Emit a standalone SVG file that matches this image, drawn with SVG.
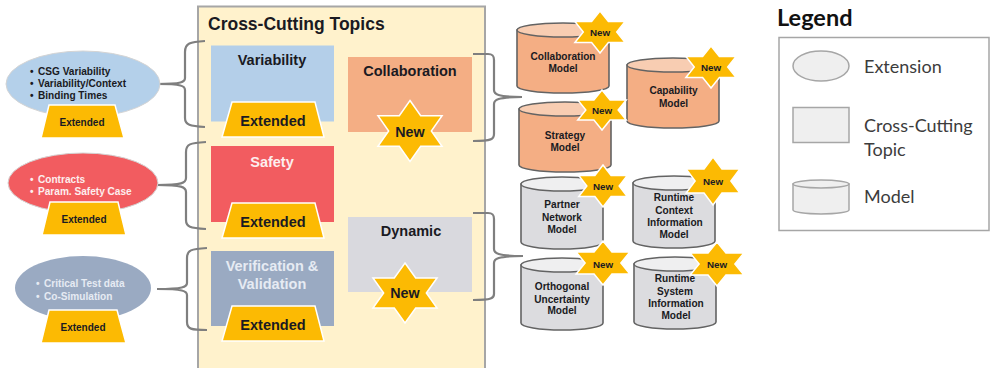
<svg xmlns="http://www.w3.org/2000/svg" width="991" height="368" viewBox="0 0 991 368">
<style>
text{font-family:"Liberation Sans",Arial,sans-serif;font-weight:bold;fill:#1a1a22}
.c{text-anchor:middle}
.t{font-size:14.5px}
.e{font-size:14.5px;text-anchor:middle}
.se{font-size:10px;text-anchor:middle}
.b{font-size:10.100px}
.m{font-size:10.100px;text-anchor:middle}
.n{font-size:9.800px;text-anchor:middle}
.nb{font-size:14.300px;text-anchor:middle}
.w{fill:#fdeeee}
.g{fill:#e6ebf3}
.tr{fill:#fcba03;stroke:#fff;stroke-width:1.500}
.star{fill:#fcba03;stroke:#fff;stroke-width:1.500;vector-effect:non-scaling-stroke}
.br{fill:none;stroke:#7f7f7f;stroke-width:2.200;stroke-linejoin:round}
.oc{fill:#f4ae84;stroke:#636363;stroke-width:1.600}
.ot{fill:#f8cdb2;stroke:#636363;stroke-width:1.400}
.gc{fill:#dcdcdf;stroke:#636363;stroke-width:1.600}
.gt{fill:#efeff0;stroke:#636363;stroke-width:1.400}
.lg{fill:#efefef;stroke:#a6a6a6;stroke-width:1.500}
.lt{font-family:Lato,"Liberation Sans",sans-serif;font-weight:normal;font-size:18px;fill:#3c3c3c}
</style>
<defs>
<polygon id="star" class="star" points="0,-1 .289,-.5 .866,-.5 .577,0 .866,.5 .289,.5 0,1 -.289,.5 -.866,.5 -.577,0 -.866,-.5 -.289,-.5"/>
<g id="ocyl"><path class="oc" d="M0,7V63A46,7 0 0 0 92,63V7Z"/><ellipse class="ot" cx="46" cy="7" rx="46" ry="7"/></g>
<g id="gcyl"><path class="gc" d="M0,7V65A41,7 0 0 0 82,65V7Z"/><ellipse class="gt" cx="41" cy="7" rx="41" ry="7"/></g>
</defs>
<rect width="991" height="368" fill="#fff"/>

<g id="panel"><rect x="198" y="6.500" width="287" height="364" fill="#fff2cc" stroke="#a6a6a6" stroke-width="2"/>
<text x="208" y="30" style="font-size:17.500px">Cross-Cutting Topics</text></g>

<g id="connectors">
<path class="br" d="M205,41C190,42 185,43 185,52V78C185,82 182,84 157,84M157,84C182,84 185,86 185,90V118C185,125 190,126 205,127"/>
<path class="br" d="M206,142C190,143 186,144 186,152V178C186,183 182,185 157,185M157,185C182,185 186,187 186,192V220C186,227 190,228 206,229"/>
<path class="br" d="M207,248C191,249 187,250 187,258V283C187,287 183,289 157,289M157,289C183,289 187,291 187,295V322C187,329 191,330 207,330"/>
<path class="br" d="M473,54H488C493,54 494,56 494,60V90C494,94 497,97 522,97M522,97C497,97 494,100 494,104V134C494,139 492,141 473,141"/>
<path class="br" d="M473,213H488C493,213 494,215 494,219V249C494,253 497,256 523,256M523,256C497,256 494,259 494,263V294C494,298 492,300 473,300"/>
</g>

<g id="ext-variability">
<ellipse cx="83" cy="84" rx="77" ry="33" fill="#b4d0ea" stroke="#d4d4d4"/>
<text class="b"><tspan x="30" y="75">•</tspan><tspan x="38" y="75">CSG Variability</tspan><tspan x="30" y="87">•</tspan><tspan x="38" y="87">Variability/Context</tspan><tspan x="30" y="99">•</tspan><tspan x="38" y="99">Binding Times</tspan></text>
<polygon class="tr" points="49,105 115,105 124,138 41,138"/><text class="se" x="82" y="126">Extended</text>
</g>
<g id="ext-safety">
<ellipse cx="83" cy="183" rx="75" ry="30" fill="#f25c60" stroke="#d4d4d4"/>
<text class="b w"><tspan x="30" y="183">•</tspan><tspan x="38" y="183">Contracts</tspan><tspan x="30" y="195">•</tspan><tspan x="38" y="195">Param. Safety Case</tspan></text>
<polygon class="tr" points="50,202 118,202 126,235 42,235"/><text class="se" x="84" y="223">Extended</text>
</g>
<g id="ext-vv">
<ellipse cx="83" cy="288" rx="68" ry="32" fill="#9aaac2"/>
<text class="b g"><tspan x="36" y="287">•</tspan><tspan x="44" y="287">Critical Test data</tspan><tspan x="36" y="300">•</tspan><tspan x="44" y="300">Co-Simulation</tspan></text>
<polygon class="tr" points="49,310 117,310 126,343 41,343"/><text class="se" x="83" y="331">Extended</text>
</g>

<g id="topic-variability"><rect x="211" y="45.500" width="123" height="76" fill="#b4cfe9"/>
<text class="t c" x="272" y="65">Variability</text>
<polygon class="tr" points="232,102 315,102 324,137 222,137"/><text class="e" x="273" y="126">Extended</text></g>
<g id="topic-safety"><rect x="211" y="146" width="123" height="76" fill="#f25c60"/>
<text class="t c w" x="272" y="167">Safety</text>
<polygon class="tr" points="232,203 315,203 324,238 222,238"/><text class="e" x="273" y="227">Extended</text></g>
<g id="topic-vv"><rect x="211" y="251" width="123" height="75" fill="#9aaac2"/>
<text class="t c g" x="272" y="271">Verification &amp;</text><text class="t c g" x="272" y="289">Validation</text>
<polygon class="tr" points="232,306 315,306 324,341 222,341"/><text class="e" x="273" y="330">Extended</text></g>
<g id="topic-collaboration"><rect x="348" y="57" width="124" height="75" fill="#f4ae84"/>
<text class="t c" x="410" y="76">Collaboration</text>
<use href="#star" transform="translate(410,131) scale(37,30.500)"/><text class="nb" x="410" y="137">New</text></g>
<g id="topic-dynamic"><rect x="348" y="217" width="124" height="75" fill="#d9d9de"/>
<text class="t c" x="411" y="236">Dynamic</text>
<use href="#star" transform="translate(405,293) scale(37,30)"/><text class="nb" x="405" y="298">New</text></g>

<g id="model-collaboration"><use href="#ocyl" x="517" y="23"/><text class="m" x="563" y="60">Collaboration</text><text class="m" x="563" y="72">Model</text>
<use href="#star" transform="translate(600,32) scale(29,21)"/><text class="n" x="600" y="36">New</text></g>
<g id="model-capability"><use href="#ocyl" x="627" y="58"/><text class="m" x="673.500" y="94">Capability</text><text class="m" x="673.500" y="107">Model</text>
<use href="#star" transform="translate(711,67) scale(29,21)"/><text class="n" x="711" y="71">New</text></g>
<g id="model-strategy"><use href="#ocyl" x="519" y="102"/><text class="m" x="565" y="139">Strategy</text><text class="m" x="565" y="151">Model</text>
<use href="#star" transform="translate(602,110) scale(28,20)"/><text class="n" x="602" y="114">New</text></g>
<g id="model-partner"><use href="#gcyl" x="521" y="177"/><text class="m" x="562" y="208">Partner</text><text class="m" x="562" y="221">Network</text><text class="m" x="562" y="233">Model</text>
<use href="#star" transform="translate(603,186) scale(28,21)"/><text class="n" x="603" y="190">New</text></g>
<g id="model-context"><use href="#gcyl" x="633" y="176"/><text class="m" x="674" y="201">Runtime</text><text class="m" x="674" y="214">Context</text><text class="m" x="675" y="226">Information</text><text class="m" x="674" y="238">Model</text>
<use href="#star" transform="translate(713,181) scale(31,24)"/><text class="n" x="713" y="185">New</text></g>
<g id="model-uncertainty"><use href="#gcyl" x="521" y="258"/><text class="m" x="562" y="290">Orthogonal</text><text class="m" x="562" y="303">Uncertainty</text><text class="m" x="562" y="314">Model</text>
<use href="#star" transform="translate(603,263) scale(31,22)"/><text class="n" x="603" y="268">New</text></g>
<g id="model-system"><use href="#gcyl" x="634" y="257"/><text class="m" x="675" y="282">Runtime</text><text class="m" x="675" y="295">System</text><text class="m" x="676" y="307">Information</text><text class="m" x="676" y="319">Model</text>
<use href="#star" transform="translate(717,264) scale(31,22)"/><text class="n" x="717" y="268">New</text></g>

<g id="legend">
<text x="777" y="26" style="font-family:Lato,'Liberation Sans',sans-serif;font-size:23.500px;fill:#111">Legend</text>
<rect x="779" y="37.500" width="210" height="193" fill="#fff" stroke="#a6a6a6" stroke-width="1.500"/>
<ellipse class="lg" cx="821" cy="66" rx="28" ry="15"/>
<text class="lt" x="864" y="73">Extension</text>
<rect class="lg" x="793" y="107.500" width="56" height="35"/>
<text class="lt" x="864" y="132">Cross-Cutting</text><text class="lt" x="864" y="156">Topic</text>
<path class="lg" d="M793,184V210A28,4 0 0 0 849,210V184Z"/><ellipse class="lg" cx="821" cy="184" rx="28" ry="4"/>
<text class="lt" x="864" y="203">Model</text>
</g>
</svg>
